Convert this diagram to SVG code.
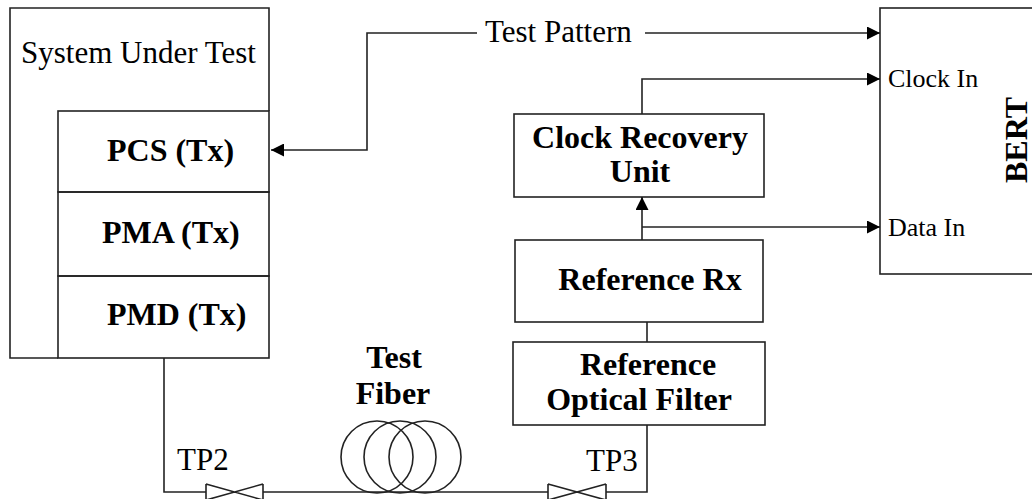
<svg xmlns="http://www.w3.org/2000/svg" width="1032" height="499" viewBox="0 0 1032 499">
<style>
.box{fill:none;stroke:#222;stroke-width:1.6}
.ln{fill:none;stroke:#222;stroke-width:1.6}
.t{font-family:"Liberation Serif","Times New Roman",serif;fill:#000}
.n{font-size:31px}
.s{font-size:26px}
.b{font-size:32px;font-weight:bold}
</style>
<defs>
<marker id="ah" markerWidth="13" markerHeight="13" refX="13" refY="6.5" orient="auto" markerUnits="userSpaceOnUse">
<path d="M0,0 L13,6.5 L0,13 Z" fill="#000"/>
</marker>
</defs>
<rect width="1032" height="499" fill="#fff"/>

<g id="sut">
<path class="box" d="M269,111 V8 H10 V358 H58"/>
<text class="t n" x="21" y="63">System Under Test</text>
</g>
<g id="pcs">
<rect class="box" x="58" y="111" width="211" height="81"/>
<text class="t b" x="107" y="161">PCS (Tx)</text>
</g>
<g id="pma">
<rect class="box" x="58" y="192" width="211" height="84"/>
<text class="t b" x="102" y="243">PMA (Tx)</text>
</g>
<g id="pmd">
<rect class="box" x="58" y="276" width="211" height="82"/>
<text class="t b" x="107" y="325">PMD (Tx)</text>
</g>

<g id="cru">
<rect class="box" x="514" y="114" width="250" height="83"/>
<text class="t b" x="640" y="148" text-anchor="middle">Clock Recovery</text>
<text class="t b" x="640" y="182" text-anchor="middle">Unit</text>
</g>
<g id="refrx">
<rect class="box" x="515" y="240" width="248" height="82"/>
<text class="t b" x="650" y="290" text-anchor="middle">Reference Rx</text>
</g>
<g id="filter">
<rect class="box" x="513" y="342" width="252" height="83"/>
<text class="t b" x="648" y="375" text-anchor="middle">Reference</text>
<text class="t b" x="639" y="410" text-anchor="middle">Optical Filter</text>
</g>

<g id="bert">
<rect class="box" x="880" y="8" width="200" height="266"/>
<text class="t s" x="888" y="87">Clock In</text>
<text class="t s" x="888" y="236">Data In</text>
<text class="t b" transform="translate(1027,140) rotate(-90)" text-anchor="middle">BERT</text>
</g>

<g id="fiber">
<circle class="ln" cx="377" cy="457" r="36"/>
<circle class="ln" cx="400" cy="457" r="36"/>
<circle class="ln" cx="425" cy="457" r="36"/>
<text class="t b" x="394" y="368" text-anchor="middle">Test</text>
<text class="t b" x="393" y="404" text-anchor="middle">Fiber</text>
</g>

<g id="tp2">
<path class="ln" d="M206,484 V500 M263,484 V500 M206,484 L263,500 M206,500 L263,484"/>
<text class="t n" x="177" y="470">TP2</text>
</g>
<g id="tp3">
<path class="ln" d="M548,484 V500 M606,484 V500 M548,484 L606,500 M548,500 L606,484"/>
<text class="t n" x="586" y="471">TP3</text>
</g>

<g id="connectors">
<path class="ln" d="M477,33 H367 V150 H271" marker-end="url(#ah)"/>
<path class="ln" d="M645,33 H880" marker-end="url(#ah)"/>
<text class="t n" x="485" y="42">Test Pattern</text>
<path class="ln" d="M642,114 V79 H880" marker-end="url(#ah)"/>
<path class="ln" d="M642,240 V197" marker-end="url(#ah)"/>
<path class="ln" d="M642,227 H880" marker-end="url(#ah)"/>
<path class="ln" d="M647,322 V342"/>
<path class="ln" d="M164,358 V492 H206 M263,492 H548 M606,492 H647 V425"/>
</g>
</svg>
